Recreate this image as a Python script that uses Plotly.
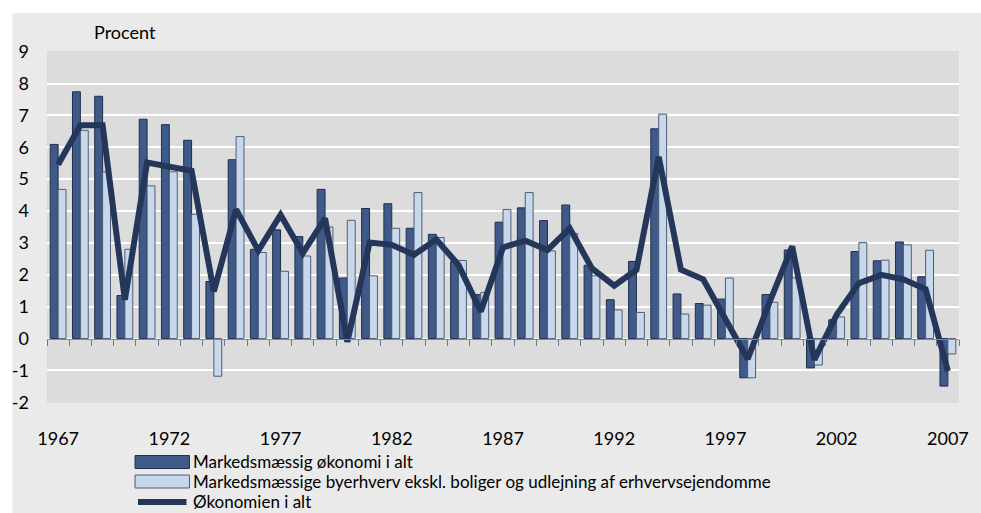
import plotly.graph_objects as go

years = list(range(1967, 2008))
markeds = [6.09, 7.74, 7.60, 1.35, 6.88, 6.71, 6.22, 1.79, 5.61, 2.80,
           3.41, 3.20, 4.68, 1.90, 4.08, 4.23, 3.46, 3.27, 2.42, 1.38,
           3.65, 4.10, 3.70, 4.19, 2.30, 1.22, 2.42, 6.58, 1.40, 1.10,
           1.24, -1.23, 1.38, 2.78, -0.92, 0.59, 2.73, 2.44, 3.03, 1.94,
           -1.49]
byerhverv = [4.68, 6.53, 5.23, 2.80, 4.79, 5.23, 3.90, -1.18, 6.34, 2.70,
             2.11, 2.59, 3.50, 3.71, 1.97, 3.46, 4.58, 3.17, 2.45, 1.45,
             4.05, 4.58, 2.75, 3.30, 1.97, 0.90, 0.82, 7.04, 0.77, 1.05,
             1.90, -1.23, 1.14, 1.90, -0.83, 0.68, 3.01, 2.46, 2.94, 2.77,
             -0.48]
okonomien = [5.46, 6.69, 6.69, 1.22, 5.52, 5.40, 5.26, 1.48, 4.05, 2.76,
             3.88, 2.68, 3.77, -0.10, 3.01, 2.94, 2.63, 3.11, 2.31, 0.85,
             2.86, 3.07, 2.78, 3.46, 2.20, 1.66, 2.16, 5.70, 2.16, 1.86,
             0.60, -0.64, 1.17, 2.89, -0.66, 0.75, 1.74, 2.00, 1.86, 1.55,
             -1.02]
tick_years = [1967, 1972, 1977, 1982, 1987, 1992, 1997, 2002, 2007]
y_ticks = list(range(-2, 10))

names = ["Markedsmæssig økonomi i alt",
         "Markedsmæssige byerhverv ekskl. boliger og udlejning af erhvervsejendomme",
         "Økonomien i alt"]

DARK = "#3F5A88"
DARK_EDGE = "#1F2E4E"
LIGHT = "#C8D8EB"
LIGHT_EDGE = "#4E5D78"
LINE = "#243659"
FONT = "Lato"

# figure geometry (pixels)
W, H = 981, 513
ML, MR, MT, MB = 44, 15, 51, 110
PW = W - ML - MR
PH = H - MT - MB


def px(x):
    return (x - ML) / PW


def py(y):
    return (H - MB - y) / PH


fig = go.Figure()
fig.add_trace(go.Bar(x=years, y=markeds, name=names[0], showlegend=False,
                     marker=dict(color=DARK, line=dict(color=DARK_EDGE, width=1))))
fig.add_trace(go.Bar(x=years, y=byerhverv, name=names[1], showlegend=False,
                     marker=dict(color=LIGHT, line=dict(color=LIGHT_EDGE, width=1))))
fig.add_trace(go.Scatter(x=years, y=okonomien, name=names[2], mode="lines",
                         showlegend=False, line=dict(color=LINE, width=6)))

# invisible trace on second x axis that carries the zero-line ticks
fig.add_trace(go.Scatter(x=[years[0], years[-1]], y=[0, 0], xaxis="x2", mode="lines",
                         line=dict(width=0), showlegend=False, hoverinfo="skip"))

LEG_ROWS = [462, 481.5, 501]
shapes = [
    # white strips at top and left of the grey panel
    dict(type="rect", xref="paper", yref="paper", x0=-0.1, x1=1.1,
         y0=py(13), y1=py(-10), fillcolor="#FFFFFF", line=dict(width=0), layer="above"),
    dict(type="rect", xref="paper", yref="paper", x0=px(-5), x1=px(9),
         y0=py(H + 10), y1=py(-10), fillcolor="#FFFFFF", line=dict(width=0), layer="above"),
    # legend symbols
    dict(type="rect", xref="paper", yref="paper", x0=px(133), x1=px(188),
         y0=py(LEG_ROWS[0] + 6.5), y1=py(LEG_ROWS[0] - 6.5), fillcolor=DARK,
         line=dict(color=DARK_EDGE, width=1)),
    dict(type="rect", xref="paper", yref="paper", x0=px(133), x1=px(188),
         y0=py(LEG_ROWS[1] + 6.5), y1=py(LEG_ROWS[1] - 6.5), fillcolor=LIGHT,
         line=dict(color=LIGHT_EDGE, width=1)),
    dict(type="line", xref="paper", yref="paper", x0=px(136), x1=px(185),
         y0=py(LEG_ROWS[2] + 1), y1=py(LEG_ROWS[2] + 1), line=dict(color=LINE, width=6)),
]
annotations = [
    dict(text="Procent", xref="paper", yref="paper", x=px(89), y=py(32),
         xanchor="left", yanchor="middle", showarrow=False,
         font=dict(size=18, family=FONT, color="#000000")),
]
for nm, yy in zip(names, LEG_ROWS):
    annotations.append(dict(text=nm, xref="paper", yref="paper", x=px(190),
                            y=py(yy), xanchor="left", yanchor="middle",
                            showarrow=False,
                            font=dict(size=17, family=FONT, color="#000000")))

fig.update_layout(
    width=W, height=H,
    margin=dict(l=ML, r=MR, t=MT, b=MB),
    paper_bgcolor="#EAEAEA",
    plot_bgcolor="#DCDCDC",
    barmode="group", bargap=0.29, bargroupgap=0,
    font=dict(family=FONT, size=18, color="#000000"),
    showlegend=False,
    xaxis=dict(range=[1966.5, 2007.5], tickvals=tick_years,
               ticktext=[str(t) for t in tick_years],
               showgrid=False, zeroline=False, ticks="", ticklabelstandoff=23,
               tickfont=dict(size=18, family=FONT)),
    xaxis2=dict(range=[1966.5, 2007.5], overlaying="x", anchor="free",
                position=2 / 11.0, side="bottom",
                tickvals=[y - 0.5 for y in years] + [2007.5],
                showticklabels=False, ticks="outside", ticklen=6,
                tickcolor="#6C7A90", showline=True, linecolor="#7E8A9C",
                linewidth=1, showgrid=False, zeroline=False),
    yaxis=dict(range=[-2.02, 9.02], tickvals=y_ticks,
               ticktext=[str(v) for v in y_ticks],
               showgrid=True, gridcolor="#FFFFFF", gridwidth=2,
               zeroline=False, ticks="", ticklabelstandoff=17,
               tickfont=dict(size=18, family=FONT)),
    shapes=shapes,
    annotations=annotations,
)

POST = ("document.documentElement.style.margin='0';"
        "document.documentElement.style.overflow='hidden';"
        "document.body.style.margin='0';"
        "document.body.style.padding='0';"
        "document.body.style.overflow='hidden';"
        "document.body.style.lineHeight='0';"
        "document.body.style.height='513px';"
        "document.querySelectorAll('body > div').forEach(function(d){"
        "d.style.display='block';d.style.lineHeight='0';});")

fig.write_html("out.html", config={"displayModeBar": False}, post_script=POST)
